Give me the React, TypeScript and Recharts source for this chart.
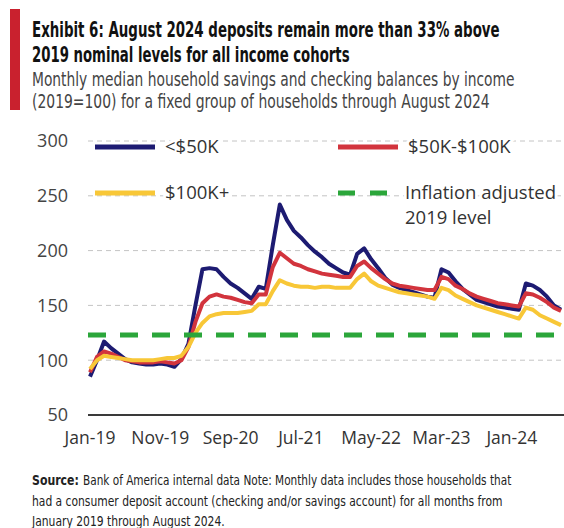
import React, { useLayoutEffect, useRef, useState } from 'react';
import { LineChart, Line, XAxis, YAxis, CartesianGrid, ReferenceLine, Legend } from 'recharts';

const months = [
  'Jan-19', 'Feb-19', 'Mar-19', 'Apr-19', 'May-19', 'Jun-19', 'Jul-19', 'Aug-19', 'Sep-19', 'Oct-19', 'Nov-19', 'Dec-19',
  'Jan-20', 'Feb-20', 'Mar-20', 'Apr-20', 'May-20', 'Jun-20', 'Jul-20', 'Aug-20', 'Sep-20', 'Oct-20', 'Nov-20', 'Dec-20',
  'Jan-21', 'Feb-21', 'Mar-21', 'Apr-21', 'May-21', 'Jun-21', 'Jul-21', 'Aug-21', 'Sep-21', 'Oct-21', 'Nov-21', 'Dec-21',
  'Jan-22', 'Feb-22', 'Mar-22', 'Apr-22', 'May-22', 'Jun-22', 'Jul-22', 'Aug-22', 'Sep-22', 'Oct-22', 'Nov-22', 'Dec-22',
  'Jan-23', 'Feb-23', 'Mar-23', 'Apr-23', 'May-23', 'Jun-23', 'Jul-23', 'Aug-23', 'Sep-23', 'Oct-23', 'Nov-23', 'Dec-23',
  'Jan-24', 'Feb-24', 'Mar-24', 'Apr-24', 'May-24', 'Jun-24', 'Jul-24', 'Aug-24',
];

// <$50K
const lowIncome = [
  85, 100, 117, 111, 106, 101, 98, 97, 96, 96, 97, 96,
  94, 101, 115, 150, 183, 184, 183, 176, 170, 166, 161, 156,
  167, 165, 205, 242, 228, 218, 212, 205, 199, 194, 188, 184,
  180, 178, 197, 202, 192, 184, 175, 169, 166, 164, 162, 160,
  158, 157, 183, 180, 172, 165, 160, 155, 153, 151, 149, 148,
  147, 146, 170, 168, 164, 158, 150, 146,
];

// $50K-$100K
const midIncome = [
  89, 103, 108, 106, 103, 100, 99, 98, 98, 98, 99, 98,
  97, 100, 112, 135, 152, 158, 160, 158, 157, 155, 153, 152,
  160, 160, 185, 198, 193, 188, 186, 183, 181, 179, 178, 177,
  176, 176, 186, 190, 184, 179, 174, 170, 168, 167, 166, 165,
  164, 164, 176, 174, 168, 165, 161, 158, 156, 154, 152, 151,
  150, 149, 161, 160, 157, 153, 148, 145,
];

// $100K+
const highIncome = [
  92, 100, 104, 103, 102, 101, 100, 100, 100, 100, 101, 102,
  102, 104, 112, 125, 134, 140, 142, 143, 143, 143, 144, 145,
  151, 151, 163, 173, 170, 168, 167, 167, 166, 167, 167, 166,
  166, 166, 174, 179, 172, 168, 166, 164, 162, 161, 160, 159,
  158, 156, 166, 164, 159, 156, 153, 150, 148, 146, 144, 142,
  140, 138, 148, 146, 141, 138, 135, 132,
];

const inflationAdjusted2019 = 123;

const xTicks = ['Jan-19', 'Nov-19', 'Sep-20', 'Jul-21', 'May-22', 'Mar-23', 'Jan-24'];
const yTicks = [50, 100, 150, 200, 250, 300];

const NAVY = '#1d1b72';
const RED = '#d2343d';
const YELLOW = '#f8c737';
const GREEN = '#2ba63a';
const FONT = '"Open Sans", "Noto Sans", sans-serif';
const NARROW = '"Liberation Sans Narrow", "DejaVu Sans Condensed", "Liberation Sans", sans-serif';

const data = months.map((m, i) => ({
  month: m,
  low: lowIncome[i],
  mid: midIncome[i],
  high: highIncome[i],
}));

// squeezes a line of text horizontally so it spans exactly `width`
function FitText({ x, y, width, children, ...rest }: any) {
  const ref = useRef<SVGTextElement>(null);
  const [sx, setSx] = useState(1);
  useLayoutEffect(() => {
    const el = ref.current;
    if (!el) return;
    const w = el.getComputedTextLength();
    if (w > 0) setSx(width / w);
  }, [width, children]);
  return (
    <text ref={ref} transform={`translate(${x},${y}) scale(${sx},1)`} {...rest}>
      {children}
    </text>
  );
}

const legendText = { fontFamily: FONT, fontSize: 18.5, fill: '#333', stroke: '#fff', strokeWidth: 6, paintOrder: 'stroke' as const };

function ChartLegend() {
  return (
    <svg width={564} height={240} style={{ display: 'block' }}>
      <line x1={95} x2={155} y1={147} y2={147} stroke={NAVY} strokeWidth={5} />
      <text x={165} y={147} dy="0.35em" {...legendText}>{'<$50K'}</text>
      <line x1={338} x2={398} y1={147} y2={147} stroke={RED} strokeWidth={5} />
      <text x={408} y={147} dy="0.35em" {...legendText}>$50K-$100K</text>
      <line x1={95} x2={155} y1={193} y2={193} stroke={YELLOW} strokeWidth={5} />
      <text x={165} y={193} dy="0.35em" {...legendText}>$100K+</text>
      <line x1={338} x2={387} y1={193} y2={193} stroke={GREEN} strokeWidth={5} strokeDasharray="17 15" />
      <text x={405} y={193} dy="0.35em" {...legendText}>Inflation adjusted</text>
      <text x={405} y={218} dy="0.35em" {...legendText}>2019 level</text>
    </svg>
  );
}

export default function App() {
  return (
    <div style={{ position: 'absolute', left: 0, top: 0, width: 564, height: 528, background: '#fff', overflow: 'hidden' }}>
      <svg width={564} height={120} style={{ position: 'absolute', left: 0, top: 0 }}>
        <rect x={10} y={9} width={10} height={101} fill="#c9212e" />
        <FitText x={32} y={37} width={468} fontFamily={NARROW} fontWeight={700} fontSize={21} fill="#111">
          Exhibit 6: August 2024 deposits remain more than 33% above
        </FitText>
        <FitText x={32} y={61.5} width={318} fontFamily={NARROW} fontWeight={700} fontSize={21} fill="#111">
          2019 nominal levels for all income cohorts
        </FitText>
        <FitText x={32} y={85.5} width={483} fontFamily={NARROW} fontSize={19.5} fill="#444">
          Monthly median household savings and checking balances by income
        </FitText>
        <FitText x={32} y={108} width={458} fontFamily={NARROW} fontSize={19.5} fill="#444">
          (2019=100) for a fixed group of households through August 2024
        </FitText>
      </svg>

      <div style={{ position: 'absolute', left: 0, top: 0 }}>
        <LineChart width={564} height={528} data={data} margin={{ top: 141, right: 0, bottom: 73, left: 0 }}>
          <CartesianGrid vertical={false} stroke="#c4c4c4" strokeDasharray="5 4" />
          <XAxis
            dataKey="month"
            ticks={xTicks}
            interval={0}
            height={40}
            padding={{ left: 2, right: 3 }}
            tickLine={false}
            tickSize={0}
            tickMargin={17}
            axisLine={{ stroke: '#3a3a3a', strokeWidth: 2 }}
            tick={{ fontFamily: FONT, fontSize: 17.5, fill: '#333' }}
          />
          <YAxis
            domain={[50, 300]}
            ticks={yTicks}
            width={88}
            axisLine={false}
            tickLine={false}
            tickSize={0}
            tickMargin={20}
            tick={{ fontFamily: FONT, fontSize: 18, fill: '#444' }}
          />
          <Legend
            layout="horizontal"
            verticalAlign="middle"
            content={() => <ChartLegend />}
            wrapperStyle={{ position: 'absolute', left: 0, top: 0, width: 564, height: 240 }}
          />
          <Line type="linear" dataKey="low" stroke={NAVY} strokeWidth={4} dot={false} isAnimationActive={false} strokeLinejoin="round" />
          <Line type="linear" dataKey="mid" stroke={RED} strokeWidth={4} dot={false} isAnimationActive={false} strokeLinejoin="round" />
          <Line type="linear" dataKey="high" stroke={YELLOW} strokeWidth={4} dot={false} isAnimationActive={false} strokeLinejoin="round" />
          <ReferenceLine y={inflationAdjusted2019} stroke={GREEN} strokeWidth={5} strokeDasharray="18 14" />
        </LineChart>
      </div>

      <svg width={564} height={73} style={{ position: 'absolute', left: 0, top: 455 }}>
        <FitText x={32} y={30} width={47} fontFamily={NARROW} fontWeight={700} fontSize={14} fill="#222">
          Source:
        </FitText>
        <FitText x={83} y={30} width={429} fontFamily={NARROW} fontSize={14} fill="#222">
          Bank of America internal data Note: Monthly data includes those households that
        </FitText>
        <FitText x={32} y={51} width={471} fontFamily={NARROW} fontSize={14} fill="#222">
          had a consumer deposit account (checking and/or savings account) for all months from
        </FitText>
        <FitText x={32} y={71} width={193} fontFamily={NARROW} fontSize={14} fill="#222">
          January 2019 through August 2024.
        </FitText>
      </svg>
    </div>
  );
}
